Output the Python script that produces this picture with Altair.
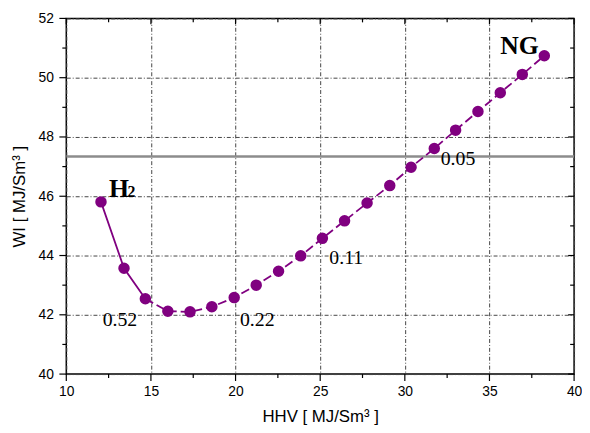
import altair as alt
import pandas as pd

# ---- data ----
hhv = [12.05, 13.41, 14.67, 16.0, 17.31, 18.6, 19.92, 21.22, 22.54, 23.85, 25.13,
       26.44, 27.77, 29.11, 30.37, 31.74, 33.0, 34.32, 35.64, 36.94, 38.24]
wi = [45.81, 43.57, 42.54, 42.12, 42.1, 42.27, 42.58, 43.0, 43.47, 43.99, 44.58,
      45.17, 45.77, 46.36, 46.98, 47.61, 48.23, 48.86, 49.49, 50.11, 50.74]
limit_wi = [47.34]

bold_labels = ["H", "NG"]
bold_x = [12.53, 35.64]
bold_y = [45.98, 50.8]

sub_labels = ["2"]
sub_x = [13.62]
sub_y = [45.98]

frac_labels = ["0.52", "0.22", "0.11", "0.05"]
frac_x = [13.17, 21.28, 26.54, 33.14]
frac_y = [41.63, 41.63, 43.7, 47.07]

x_major = [10, 15, 20, 25, 30, 35, 40]
x_minor = [12.5, 17.5, 22.5, 27.5, 32.5, 37.5]
y_major = [40, 42, 44, 46, 48, 50, 52]
y_minor = [41, 43, 45, 47, 49, 51]

W, H = 514, 360
PURPLE = "#800080"

df = pd.DataFrame({"hhv": hhv, "wi": wi})
xs = alt.Scale(domain=[10, 40], nice=False, zero=False)
ys = alt.Scale(domain=[40, 52], nice=False, zero=False)

grid_dash = [4, 2, 1, 2]
ax_x = alt.Axis(
    title="HHV [ MJ/Sm³ ]", values=x_major, grid=True, gridDash=grid_dash,
    gridColor="#444", gridWidth=1, ticks=False, domain=False,
    labelPadding=11, titlePadding=10, labelFlush=False, labelOverlap=False)
ax_y = alt.Axis(
    title="WI [ MJ/Sm³ ]", values=y_major, grid=True, gridDash=grid_dash,
    gridColor="#444", gridWidth=1, ticks=False, domain=False,
    labelPadding=13, titlePadding=10, labelFlush=False, labelOverlap=False)


def X(field):
    return alt.X(field, type="quantitative", scale=xs, axis=ax_x)


def Y(field):
    return alt.Y(field, type="quantitative", scale=ys, axis=ax_y)


limit = alt.Chart(pd.DataFrame({"v": limit_wi})).mark_rule(
    color="#8c8c8c", strokeWidth=2.5).encode(y=Y("v"))

line_solid = alt.Chart(df.iloc[:3]).mark_line(
    color=PURPLE, strokeWidth=1.8).encode(x=X("hhv"), y=Y("wi"))
line_dash = alt.Chart(df.iloc[2:]).mark_line(
    color=PURPLE, strokeWidth=1.8, strokeDash=[9, 4]).encode(x=X("hhv"), y=Y("wi"))
pts = alt.Chart(df).mark_circle(color=PURPLE, size=135, opacity=1).encode(
    x=X("hhv"), y=Y("wi"))

bold_txt = alt.Chart(pd.DataFrame({"t": bold_labels, "x": bold_x, "y": bold_y})).mark_text(
    font="Liberation Serif", fontSize=26, fontWeight="bold", align="left",
    baseline="alphabetic", color="black").encode(x=X("x"), y=Y("y"), text="t:N")
sub_txt = alt.Chart(pd.DataFrame({"t": sub_labels, "x": sub_x, "y": sub_y})).mark_text(
    font="Liberation Serif", fontSize=16, fontWeight="bold", align="left",
    baseline="alphabetic", color="black").encode(x=X("x"), y=Y("y"), text="t:N")
frac_txt = alt.Chart(pd.DataFrame({"t": frac_labels, "x": frac_x, "y": frac_y})).mark_text(
    font="Liberation Serif", fontSize=20, align="center",
    baseline="alphabetic", color="black").encode(x=X("x"), y=Y("y"), text="t:N")

# tick marks (outward on left/bottom, inward on top/right)
xmaj = pd.DataFrame({"v": x_major})
xmin = pd.DataFrame({"v": x_minor})
ymaj = pd.DataFrame({"v": y_major})
ymin = pd.DataFrame({"v": y_minor})
tk = dict(color="black", strokeWidth=1.2)
ticks = [
    alt.Chart(xmaj).mark_rule(**tk).encode(x=X("v"), y=alt.value(H), y2=alt.value(H + 7)),
    alt.Chart(xmin).mark_rule(**tk).encode(x=X("v"), y=alt.value(H), y2=alt.value(H + 4)),
    alt.Chart(xmaj).mark_rule(**tk).encode(x=X("v"), y=alt.value(0), y2=alt.value(6)),
    alt.Chart(xmin).mark_rule(**tk).encode(x=X("v"), y=alt.value(0), y2=alt.value(4)),
    alt.Chart(ymaj).mark_rule(**tk).encode(y=Y("v"), x=alt.value(-7), x2=alt.value(0)),
    alt.Chart(ymin).mark_rule(**tk).encode(y=Y("v"), x=alt.value(-4), x2=alt.value(0)),
    alt.Chart(ymaj).mark_rule(**tk).encode(y=Y("v"), x=alt.value(W - 6), x2=alt.value(W)),
    alt.Chart(ymin).mark_rule(**tk).encode(y=Y("v"), x=alt.value(W - 4), x2=alt.value(W)),
]

chart = alt.layer(limit, line_solid, line_dash, pts, bold_txt, sub_txt, frac_txt, *ticks).properties(
    width=W, height=H,
    autosize=alt.AutoSizeParams(type="none"),
    padding={"left": 59, "top": 8, "right": 8, "bottom": 49},
).configure_view(stroke="black", strokeWidth=1.5).configure_axis(
    labelFont="Liberation Sans", labelFontSize=14, labelColor="black",
    titleFont="Liberation Sans", titleFontSize=17, titleFontWeight="normal", titleColor="black",
)

chart.save("out.html", embed_options={"renderer": "svg", "actions": False})
